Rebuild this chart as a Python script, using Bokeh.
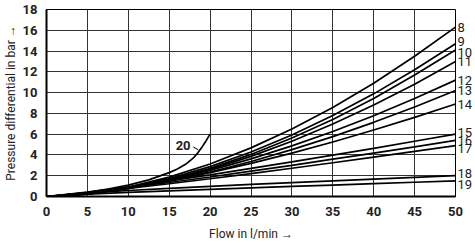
from bokeh.plotting import figure
from bokeh.models import Label, Range1d, FixedTicker, LinearAxis
from bokeh.embed import file_html
from bokeh.resources import INLINE

flow = [0, 5, 10, 15, 20, 25, 30, 35, 40, 45, 50]

curves = {
    "8":  [0, 0.26, 0.90, 1.86, 3.13, 4.68, 6.50, 8.57, 10.9, 13.5, 16.3],
    "9":  [0, 0.24, 0.84, 1.72, 2.88, 4.28, 5.92, 7.79, 9.88, 12.2, 14.7],
    "10": [0, 0.22, 0.78, 1.61, 2.71, 4.05, 5.63, 7.42, 9.43, 11.7, 14.1],
    "11": [0, 0.23, 0.78, 1.59, 2.61, 3.86, 5.32, 6.97, 8.80, 10.8, 13.0],
    "12": [0, 0.26, 0.81, 1.57, 2.51, 3.62, 4.87, 6.26, 7.78, 9.43, 11.2],
    "13": [0, 0.26, 0.78, 1.49, 2.36, 3.37, 4.51, 5.76, 7.14, 8.62, 10.2],
    "14": [0, 0.29, 0.82, 1.50, 2.30, 3.19, 4.18, 5.25, 6.40, 7.62, 8.9],
    "15": [0, 0.42, 0.94, 1.50, 2.09, 2.71, 3.34, 3.98, 4.64, 5.32, 6.0],
    "16": [0, 0.38, 0.85, 1.35, 1.88, 2.44, 3.00, 3.59, 4.18, 4.78, 5.4],
    "17": [0, 0.35, 0.77, 1.23, 1.71, 2.21, 2.72, 3.25, 3.79, 4.34, 4.9],
    "18": [0, 0.33, 0.58, 0.79, 0.98, 1.16, 1.33, 1.50, 1.67, 1.84, 2.0],
    "19": [0, 0.22, 0.39, 0.54, 0.69, 0.83, 0.97, 1.10, 1.24, 1.37, 1.5],
}

flow_20 = [0, 2.5, 5, 7.5, 10, 12.5, 15, 16, 17, 18, 18.5, 19, 19.5, 20]
curve_20 = [0, 0.15, 0.4, 0.72, 1.1, 1.6, 2.3, 2.65, 3.1, 3.75, 4.2, 4.75, 5.35, 6.0]

label_names = ["8", "9", "10", "11", "12", "13", "14", "15", "16", "17", "18", "19"]
label_y = [16.3, 14.9, 13.9, 13.0, 11.2, 10.2, 8.9, 6.2, 5.4, 4.6, 2.2, 1.2]

x_ticks = [0, 5, 10, 15, 20, 25, 30, 35, 40, 45, 50]
y_ticks = [0, 2, 4, 6, 8, 10, 12, 14, 16, 18]

FONT = "Roboto"

p = figure(width=475, height=243, output_backend="svg", toolbar_location=None,
           x_range=Range1d(0, 50), y_range=Range1d(0, 18),
           min_border_left=44, min_border_right=0, min_border_top=9, min_border_bottom=46)
p.outline_line_color = "black"
p.outline_line_width = 1

for ax in (p.xaxis[0], p.yaxis[0]):
    ax.major_tick_line_color = None
    ax.minor_tick_line_color = None
    ax.axis_line_color = "black"
    ax.axis_line_width = 2
    ax.major_label_text_font = FONT
    ax.major_label_text_font_style = "bold"
    ax.major_label_text_font_size = "13px"
    ax.major_label_text_color = "#222222"
    ax.axis_label_text_font = FONT
    ax.axis_label_text_font_style = "normal"
    ax.axis_label_text_font_size = "12px"
    ax.axis_label_text_color = "#222222"

p.xaxis.ticker = FixedTicker(ticks=x_ticks)
p.yaxis.ticker = FixedTicker(ticks=y_ticks)
p.xaxis.axis_label = "Flow in l/min →"
p.yaxis.axis_label = "Pressure differential in bar →"
p.xaxis.major_label_standoff = 4
p.yaxis.major_label_standoff = 3
p.xaxis.axis_label_standoff = 8
p.yaxis.axis_label_standoff = 2

p.xgrid.ticker = FixedTicker(ticks=x_ticks)
p.ygrid.ticker = FixedTicker(ticks=y_ticks)
for g in (p.xgrid[0], p.ygrid[0]):
    g.grid_line_color = "#333333"
    g.grid_line_width = 1

for name in label_names:
    p.line(flow, curves[name], line_color="black", line_width=1.7)

p.line(flow_20, curve_20, line_color="black", line_width=1.7)
p.add_layout(Label(x=16.7, y=4.9, text="20", text_font=FONT,
                   text_font_style="bold", text_font_size="13px", text_align="center",
                   text_baseline="middle", text_color="#222222"))
p.segment(x0=[17.95], y0=[4.76], x1=[18.55], y1=[4.5], line_color="black", line_width=1)

right = LinearAxis(ticker=FixedTicker(ticks=label_y),
                   major_label_overrides={yv: name for yv, name in zip(label_y, label_names)})
right.axis_line_color = None
right.major_tick_line_color = None
right.minor_tick_line_color = None
right.major_tick_out = 0
right.major_tick_in = 0
right.major_label_standoff = 2
right.major_label_text_font = FONT
right.major_label_text_font_size = "13px"
right.major_label_text_color = "#222222"
p.add_layout(right, "right")

open("out.html", "w").write(file_html(p, INLINE))
